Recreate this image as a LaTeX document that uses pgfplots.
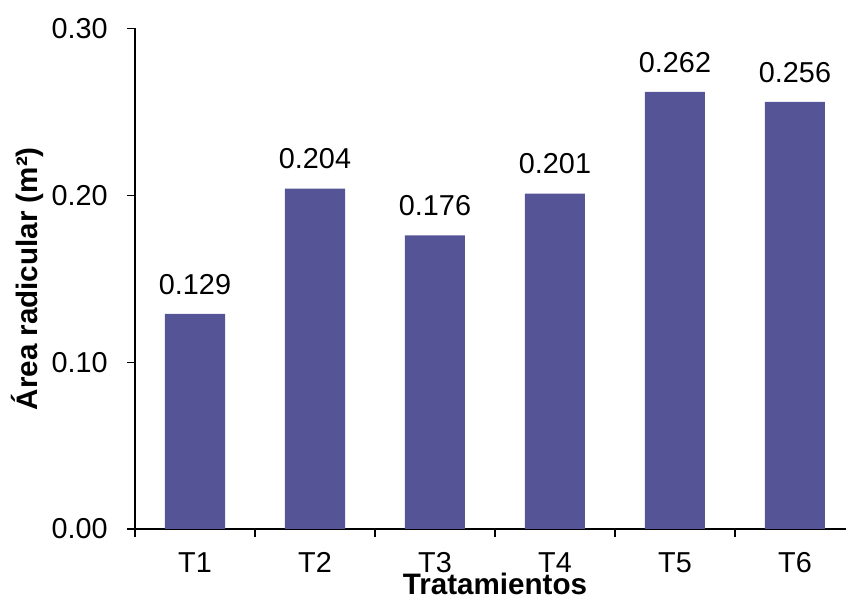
\documentclass[border=0pt]{standalone}
\usepackage{pgfplots}
\pgfplotsset{compat=1.18}
\usepackage{fontspec}
\setmainfont{Liberation Sans}
\definecolor{barblue}{HTML}{545496}
\begin{document}
\fontsize{14.4}{17}\selectfont
\begin{tikzpicture}
\path[use as bounding box] (0,0) rectangle (423pt,299pt);
\begin{axis}[
  at={(67.5pt,34.5pt)}, anchor=south west,
  scale only axis, width=360pt, height=250.25pt,
  xmin=-0.5, xmax=5.5, ymin=0, ymax=0.3,
  axis lines*=left,
  axis line style={-, line width=0.6pt, black},
  tick align=outside, major tick length=4pt,
  tick style={black, line width=0.6pt},
  xtick={-0.5,0.5,1.5,2.5,3.5,4.5,5.5},
  x tick label as interval,
  xticklabels={T1,T2,T3,T4,T5,T6},
  ytick={0,0.1,0.2,0.3},
  scaled y ticks=false,
  /pgf/number format/assume math mode=true,
  yticklabel style={/pgf/number format/fixed, /pgf/number format/fixed zerofill,
    /pgf/number format/precision=2, anchor=east, inner sep=0pt, xshift=-9.5pt},
  xticklabel style={anchor=base, inner sep=0pt, yshift=-17.8pt},
  xlabel={\fontsize{14.8}{17}\selectfont\bfseries Tratamientos},
  xlabel style={at={(axis description cs:0.5,0)}, anchor=base, inner sep=0pt, yshift=-32.7pt},
  ylabel={\fontsize{14.8}{17}\selectfont\bfseries Área radicular (m²)},
  ylabel style={at={(axis description cs:-0.15,0.5)}, anchor=center, inner sep=0pt},
  nodes near coords,
  nodes near coords style={/pgf/number format/fixed, /pgf/number format/fixed zerofill,
    /pgf/number format/precision=3, anchor=south, inner sep=0pt, yshift=9.5pt, black},
  clip=false,
]
\addplot[ybar, bar width=30pt, fill=barblue, draw=none]
  coordinates {(0,0.129) (1,0.204) (2,0.176) (3,0.201) (4,0.262) (5,0.256)};
\end{axis}
\end{tikzpicture}
\end{document}
